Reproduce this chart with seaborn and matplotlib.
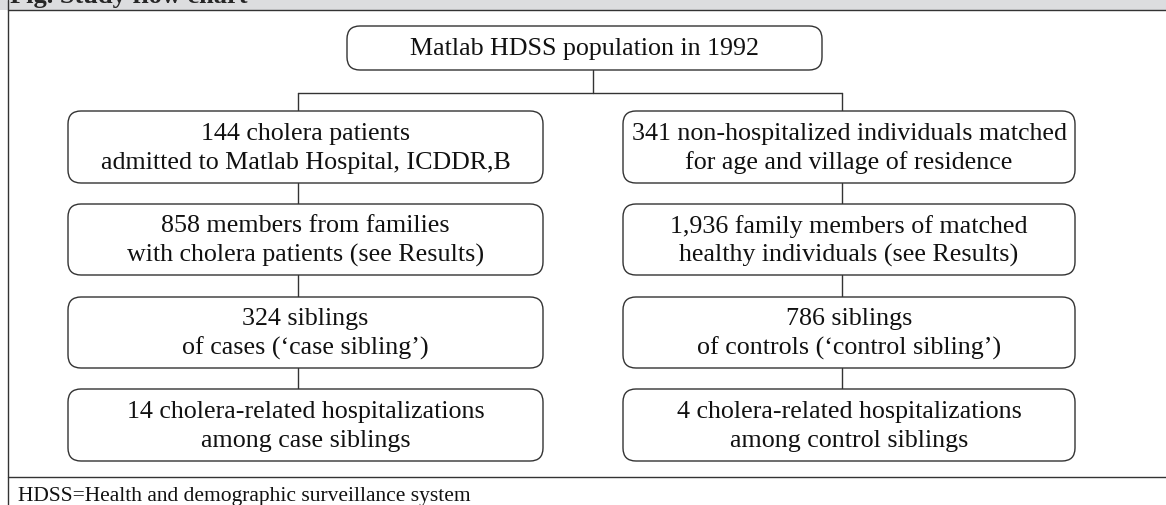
import matplotlib
matplotlib.use("Agg")
import matplotlib.pyplot as plt
from matplotlib.patches import FancyBboxPatch, Rectangle
import pandas as pd
import seaborn as sns

# text of the chart
title = "Fig. Study flow chart"
top_label = "Matlab HDSS population in 1992"
case_labels = [
    "144 cholera patients\nadmitted to Matlab Hospital, ICDDR,B",
    "858 members from families\nwith cholera patients (see Results)",
    "324 siblings\nof cases (\u2018case sibling\u2019)",
    "14 cholera-related hospitalizations\namong case siblings",
]
control_labels = [
    "341 non-hospitalized individuals matched\nfor age and village of residence",
    "1,936 family members of matched\nhealthy individuals (see Results)",
    "786 siblings\nof controls (\u2018control sibling\u2019)",
    "4 cholera-related hospitalizations\namong control siblings",
]
footnote = "HDSS=Health and demographic surveillance system"

sns.set_style("white")
plt.rcParams['font.family'] = ['Liberation Serif', 'DejaVu Serif']
fs = 18.7

W, H = 1166, 505
fig = plt.figure(figsize=(W / 100, H / 100), dpi=100)
ax = fig.add_axes([0, 0, 1, 1])

# layout (pixels)
cols = [(68, 543), (623, 1075)]
rows = [(111, 183), (204, 275), (297, 368), (389, 461)]
stems = [298, 842]
top_box = (347, 822, 26, 70)
top_stem = 593
bus_y = 93
edge = "#333333"

# connectors
segs = []
def seg(x0, y0, x1, y1):
    k = len(segs)
    segs.append({"x": x0, "y": y0, "seg": k})
    segs.append({"x": x1, "y": y1, "seg": k})

seg(top_stem, top_box[3], top_stem, bus_y)
seg(stems[0], bus_y, stems[1], bus_y)
for sx in stems:
    seg(sx, bus_y, sx, rows[0][0])
    for i in range(len(rows) - 1):
        seg(sx, rows[i][1], sx, rows[i + 1][0])
df = pd.DataFrame(segs)
sns.lineplot(data=df, x="x", y="y", units="seg", estimator=None, sort=False,
             color=edge, lw=1.0, ax=ax, legend=False)

def box(x0, x1, y0, y1, label):
    p = FancyBboxPatch((x0, y0), x1 - x0, y1 - y0,
                       boxstyle="round,pad=0,rounding_size=13",
                       fc="white", ec=edge, lw=1.0, zorder=3)
    ax.add_patch(p)
    ax.text((x0 + x1) / 2, (y0 + y1) / 2 + 1.5, label, ha="center", va="center",
            fontsize=fs, linespacing=1.36, color="#111111", zorder=4)

box(*top_box, top_label)
for (x0, x1), labels in zip(cols, [case_labels, control_labels]):
    for (y0, y1), lab in zip(rows, labels):
        box(x0, x1, y0, y1, lab)

# frame: header band, left rule, footer rule
ax.add_patch(Rectangle((0, 0), W, 10, fc="#dcdddf", ec="none", zorder=1))
ax.plot([8, W], [10, 10], color=edge, lw=1.0)
ax.plot([8, W], [477, 477], color=edge, lw=1.0)
ax.plot([8, 8], [0, H], color=edge, lw=1.0)
ax.text(10, 3, title, fontsize=19, fontweight="bold", va="baseline", zorder=4)
ax.text(18, 501, footnote, fontsize=15.5, va="baseline", color="#111111", zorder=4)

ax.set_xlim(0, W)
ax.set_ylim(H, 0)
ax.axis("off")
fig.savefig("out.png", dpi=100)
